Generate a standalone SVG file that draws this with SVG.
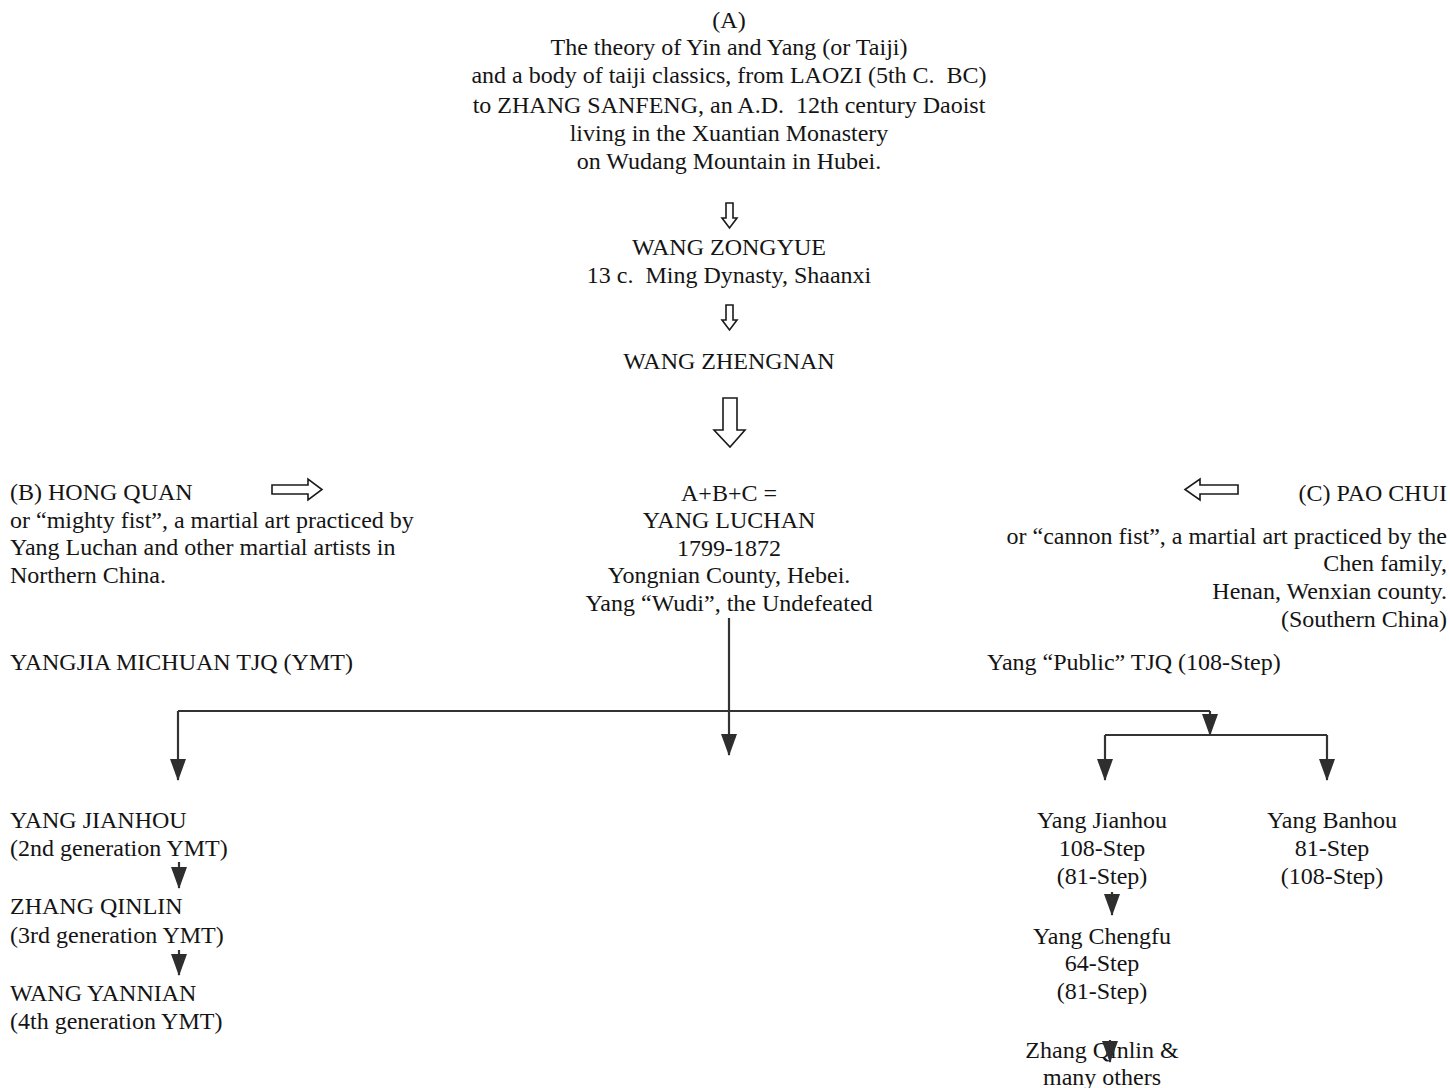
<svg xmlns="http://www.w3.org/2000/svg" width="1450" height="1088" viewBox="0 0 1450 1088">
<style>
text{font-family:"Liberation Serif","Times New Roman",serif;font-size:24px;fill:#141414;white-space:pre}
.c{text-anchor:middle}
.r{text-anchor:end}
.ln{stroke:#333;stroke-width:2.2;fill:none}
.hol{fill:#fff;stroke:#1a1a1a;stroke-width:1.6;stroke-linejoin:miter}
</style>
<defs>
<marker id="ah" viewBox="0 0 22 16" refX="21" refY="8" markerWidth="22" markerHeight="16" markerUnits="userSpaceOnUse" orient="auto">
<path d="M0,0 L22,8 L0,16 Z" fill="#2e2e2e"/>
</marker>
</defs>
<g id="nodeA">
<text class="c" x="729" y="28">(A)</text>
<text class="c" x="729" y="55">The theory of Yin and Yang (or Taiji)</text>
<text class="c" x="729" y="83">and a body of taiji classics, from LAOZI (5th C.  BC)</text>
<text class="c" x="729" y="113">to ZHANG SANFENG, an A.D.  12th century Daoist</text>
<text class="c" x="729" y="141">living in the Xuantian Monastery</text>
<text class="c" x="729" y="169">on Wudang Mountain in Hubei.</text>
</g>
<g id="nodeZongyue">
<text class="c" x="729" y="255">WANG ZONGYUE</text>
<text class="c" x="729" y="283">13 c.  Ming Dynasty, Shaanxi</text>
</g>
<g id="nodeZhengnan">
<text class="c" x="729" y="369">WANG ZHENGNAN</text>
</g>
<g id="nodeB">
<text x="10" y="500">(B) HONG QUAN</text>
<text x="10" y="528">or “mighty fist”, a martial art practiced by</text>
<text x="10" y="555">Yang Luchan and other martial artists in</text>
<text x="10" y="583">Northern China.</text>
</g>
<g id="nodeLuchan">
<text class="c" x="729" y="501">A+B+C =</text>
<text class="c" x="729" y="528">YANG LUCHAN</text>
<text class="c" x="729" y="556">1799-1872</text>
<text class="c" x="729" y="583">Yongnian County, Hebei.</text>
<text class="c" x="729" y="611">Yang “Wudi”, the Undefeated</text>
</g>
<g id="nodeC">
<text class="r" x="1447" y="501">(C) PAO CHUI</text>
<text class="r" x="1447" y="544">or “cannon fist”, a martial art practiced by the</text>
<text class="r" x="1447" y="571">Chen family,</text>
<text class="r" x="1447" y="599">Henan, Wenxian county.</text>
<text class="r" x="1447" y="627">(Southern China)</text>
</g>
<g id="nodeYMT">
<text x="10" y="670">YANGJIA MICHUAN TJQ (YMT)</text>
</g>
<g id="nodePublic">
<text x="987" y="670">Yang “Public” TJQ (108-Step)</text>
</g>
<g id="nodeYangJianhouYMT">
<text x="10" y="828">YANG JIANHOU</text>
<text x="10" y="856">(2nd generation YMT)</text>
</g>
<g id="nodeZhangQinlinYMT">
<text x="10" y="914">ZHANG QINLIN</text>
<text x="10" y="943">(3rd generation YMT)</text>
</g>
<g id="nodeWangYannian">
<text x="10" y="1001">WANG YANNIAN</text>
<text x="10" y="1029">(4th generation YMT)</text>
</g>
<g id="nodeYangJianhou">
<text class="c" x="1102" y="828">Yang Jianhou</text>
<text class="c" x="1102" y="856">108-Step</text>
<text class="c" x="1102" y="884">(81-Step)</text>
</g>
<g id="nodeYangBanhou">
<text class="c" x="1332" y="828">Yang Banhou</text>
<text class="c" x="1332" y="856">81-Step</text>
<text class="c" x="1332" y="884">(108-Step)</text>
</g>
<g id="nodeYangChengfu">
<text class="c" x="1102" y="944">Yang Chengfu</text>
<text class="c" x="1102" y="971">64-Step</text>
<text class="c" x="1102" y="999">(81-Step)</text>
</g>
<g id="nodeZhangQinlin">
<text class="c" x="1102" y="1058">Zhang Qinlin &amp;</text>
<text class="c" x="1102" y="1085">many others</text>
</g>
<g id="connectors">
<polygon class="hol" points="726,203 733,203 733,218 737,218 729.5,228 722,218 726,218"/>
<polygon class="hol" points="726,305 733,305 733,320 737,320 729.5,330 722,320 726,320"/>
<polygon class="hol" points="723,398 737,398 737,430 745,430 730,447 714,430 723,430"/>
<polygon class="hol" points="272,485 308,485 308,479 322,489.5 308,500 308,494 272,494"/>
<polygon class="hol" points="1238,485 1200,485 1200,479 1185,489.5 1200,500 1200,494 1238,494"/>
<path class="ln" d="M729,618 V755" marker-end="url(#ah)"/>
<path class="ln" d="M178,711 H1210"/>
<path class="ln" d="M178,711 V780" marker-end="url(#ah)"/>
<path class="ln" d="M1210,711 V735" marker-end="url(#ah)"/>
<path class="ln" d="M1105,735 H1327"/>
<path class="ln" d="M1105,735 V780" marker-end="url(#ah)"/>
<path class="ln" d="M1327,735 V780" marker-end="url(#ah)"/>
<path class="ln" d="M179,862 V888" marker-end="url(#ah)"/>
<path class="ln" d="M179,950 V975" marker-end="url(#ah)"/>
<path class="ln" d="M1112,892 V915" marker-end="url(#ah)"/>
<path class="ln" d="M1110,1040 V1062" marker-end="url(#ah)"/>
</g>
</svg>
